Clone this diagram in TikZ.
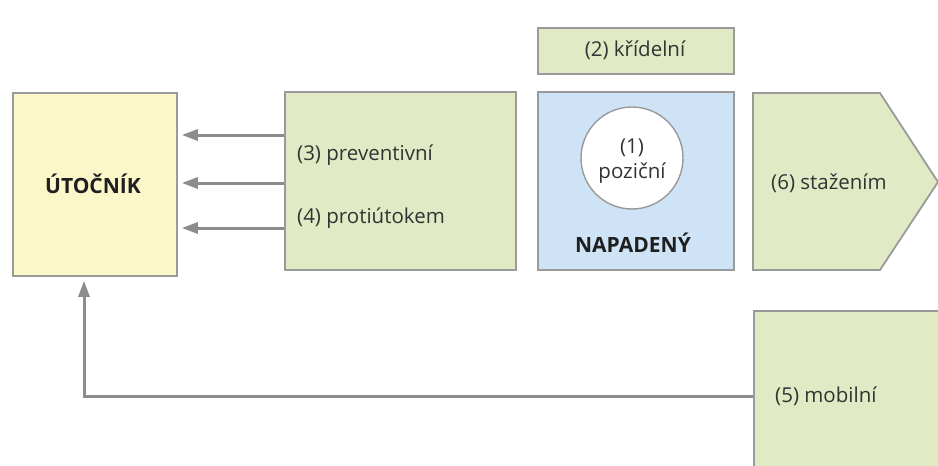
\documentclass[tikz,border=0pt]{standalone}
\usepackage{fontspec}
\setmainfont{Open Sans}
\usetikzlibrary{arrows.meta,calc}
\definecolor{ylw}{HTML}{FBF7C9}
\definecolor{grn}{HTML}{E0EAC4}
\definecolor{blu}{HTML}{CFE3F6}
\definecolor{brd}{HTML}{9A9A9A}
\definecolor{arr}{HTML}{8C8C8C}
\definecolor{txt}{HTML}{333333}
\begin{document}
\begin{tikzpicture}[x=1pt,y=-1pt,
  box/.style={draw=brd,line width=1.8pt,inner sep=0pt,anchor=north west},
  lbl/.style={font=\fontsize{20.5}{22}\selectfont,text=txt,inner sep=0pt},
  blbl/.style={font=\fontsize{21}{23}\selectfont\bfseries,text=black!88,inner sep=0pt},
  conn/.style={draw=arr,line width=3pt,-{Triangle[length=16pt,width=11pt]}}]
\useasboundingbox (0,0) rectangle (938,466);
\clip (0,0) rectangle (938,466);
% boxes
\node[box,fill=ylw,minimum width=164pt,minimum height=183pt] (uto) at (12,92) {};
\node[blbl] at (93,184) {ÚTOČNÍK};
\node[box,fill=grn,minimum width=231pt,minimum height=178pt] (def) at (284,91) {};
\node[box,fill=grn,minimum width=196pt,minimum height=46pt] (kri) at (537,27) {};
\node[lbl] at (635,50) {(2) křídelní};
\node[box,fill=blu,minimum width=196pt,minimum height=178pt] (nap) at (537,91) {};
\node[draw=brd,line width=1.4pt,fill=white,circle,minimum size=102pt,inner sep=0pt] (poz) at (632,158) {};
\node[lbl] at (632,148) {(1)};
\node[lbl] at (632,173) {pozičn\'{\i}};
\node[blbl] at (633,243) {NAPADENÝ};
% pentagon
\coordinate (p1) at (753,93);
\coordinate (p2) at (880,93);
\coordinate (p3) at (938,182);
\coordinate (p4) at (880,270);
\coordinate (p5) at (753,270);
\draw[draw=brd,line width=1.8pt,fill=grn,line join=miter] (p1) -- (p2) -- (p3) -- (p4) -- (p5) -- cycle;
\node[lbl,anchor=west] (sta) at (771,183) {(6) stažením};
% mobilni
\node[box,fill=grn,minimum width=220pt,minimum height=172pt] (mob) at (753,310) {};
\node[lbl,anchor=west] at (775,396) {(5) mobilní};
% texts in defence box
\node[lbl,anchor=west] (t3) at (297,155) {(3) preventivní};
\node[lbl,anchor=west] (t4) at (297,218) {(4) protiútokem};
% arrows
\draw[conn] (def.west |- 0,135) -- ($(uto.east |- 0,135)+(4,0)$);
\draw[conn] (def.west |- 0,183) -- ($(uto.east |- 0,183)+(4,0)$);
\draw[conn] (def.west |- 0,228) -- ($(uto.east |- 0,228)+(4,0)$);
\draw[conn] (mob.west |- 0,396) -- (84,396) -- ($(84,0 |- uto.south)+(0,4)$);
\end{tikzpicture}
\end{document}
